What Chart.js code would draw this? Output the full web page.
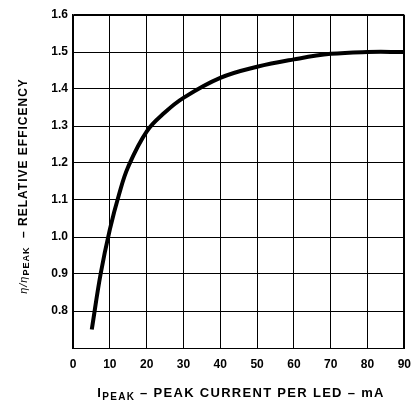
<!DOCTYPE html>
<html>
<head>
<meta charset="utf-8">
<script src="https://cdn.jsdelivr.net/npm/chart.js@4/dist/chart.umd.min.js"></script>
<style>
  html, body { margin: 0; padding: 0; background: #fff; }
  #wrap { width: 420px; height: 406px; }
</style>
</head>
<body>
<div id="wrap"><canvas id="eff"></canvas></div>
<script>
// peak current per LED (mA) and relative efficiency
const currentMA = [5.1, 7.5, 10, 12.5, 15, 20, 25, 30, 40, 50, 60, 70, 80, 90];
const relEff = [0.75, 0.9, 1.02, 1.115, 1.19, 1.285, 1.337, 1.376, 1.43, 1.46, 1.48, 1.495, 1.5, 1.5];

const FONT = '"Liberation Sans", Arial, Helvetica, sans-serif';

// titles drawn by hand so that PEAK can be a subscript
const titlePlugin = {
    id: 'titles',
    afterDraw(chart) {
        const ctx = chart.ctx;
        ctx.save();
        ctx.fillStyle = '#000';
        ctx.textBaseline = 'alphabetic';

        function drawParts(parts, spacing) {
            if ('letterSpacing' in ctx) ctx.letterSpacing = spacing;
            let w = 0;
            parts.forEach(p => { ctx.font = p.font; w += ctx.measureText(p.text).width; });
            let x = -w / 2;
            parts.forEach(p => {
                ctx.font = p.font;
                ctx.fillText(p.text, x, p.dy);
                x += ctx.measureText(p.text).width;
            });
        }

        // x title
        ctx.save();
        ctx.translate(241, 397);
        drawParts([
            { text: 'I', font: 'bold 13px ' + FONT, dy: 0 },
            { text: 'PEAK', font: 'bold 10px ' + FONT, dy: 3 },
            { text: ' \u2013 PEAK CURRENT PER LED \u2013 mA', font: 'bold 13px ' + FONT, dy: 0 }
        ], '1.3px');
        ctx.restore();

        // y title
        ctx.save();
        ctx.translate(27, 186);
        ctx.rotate(-Math.PI / 2);
        drawParts([
            { text: '\u03B7/\u03B7', font: 'italic 11px ' + FONT, dy: 0 },
            { text: 'PEAK', font: 'bold 9px ' + FONT, dy: 2 },
            { text: '  \u2013 RELATIVE EFFICENCY', font: 'bold 12px ' + FONT, dy: 0 }
        ], '1px');
        ctx.restore();

        ctx.restore();
    }
};

new Chart(document.getElementById('eff'), {
    type: 'scatter',
    data: {
        datasets: [{
            data: currentMA.map((x, i) => ({ x: x, y: relEff[i] })),
            showLine: true,
            borderColor: '#000',
            borderWidth: 4,
            pointRadius: 0,
            tension: 0.4,
            fill: false
        }]
    },
    options: {
        responsive: true,
        maintainAspectRatio: false,
        animation: false,
        layout: { padding: { top: 15, right: 9, left: 0, bottom: 0 } },
        plugins: { legend: { display: false }, tooltip: { enabled: false } },
        scales: {
            x: {
                type: 'linear',
                min: 0,
                max: 90,
                afterFit(scale) { scale.height = 58; },
                ticks: {
                    stepSize: 10,
                    color: '#000',
                    padding: 9,
                    font: { family: FONT, size: 12, weight: 'bold' }
                },
                grid: {
                    color: '#000',
                    lineWidth: c => (c.tick && c.tick.value === 90 ? 2 : 1),
                    drawTicks: false
                },
                border: { color: '#000', width: 1 }
            },
            y: {
                min: 0.7,
                max: 1.6,
                afterFit(scale) { scale.width = 73; },
                ticks: {
                    stepSize: 0.1,
                    color: '#000',
                    padding: 5,
                    font: { family: FONT, size: 12, weight: 'bold' },
                    callback: v => (Math.abs(v - 0.7) < 1e-6 ? '' : v.toFixed(1))
                },
                grid: {
                    color: '#000',
                    lineWidth: c => (c.tick && Math.abs(c.tick.value - 1.6) < 1e-6 ? 2 : 1),
                    drawTicks: false
                },
                border: { color: '#000', width: 1.5 }
            }
        }
    },
    plugins: [titlePlugin]
});
</script>
</body>
</html>
